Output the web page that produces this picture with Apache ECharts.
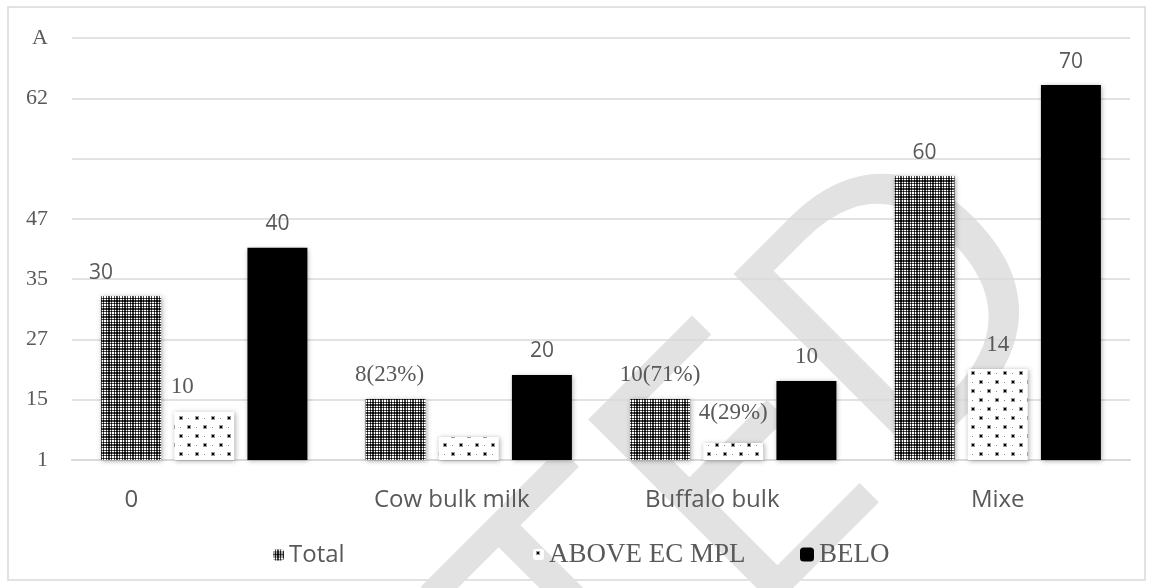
<!DOCTYPE html>
<html>
<head>
<meta charset="utf-8">
<script src="https://cdn.jsdelivr.net/npm/echarts@6/dist/echarts.min.js"></script>
<style>html,body{margin:0;padding:0;background:#fff;}#c{width:1153px;height:588px;}</style>
</head>
<body>
<div id="c"></div>
<script>
// ---- data ----
const categories = ['0', 'Cow bulk milk', 'Buffalo bulk', 'Mixe'];
const seriesNames = ['Total', 'ABOVE EC MPL', 'BELO'];
// bar heights in axis units (one unit per gridline band)
const totalValues = [2.72, 1.01, 1.01, 4.71];
const aboveValues = [0.80, 0.38, 0.28, 1.51];
const beloValues  = [3.52, 1.41, 1.31, 6.22];
// printed labels
const totalLabels = ['30', '8(23%)', '10(71%)', '60'];
const aboveLabels = ['10', '', '4(29%)', '14'];
const beloLabels  = ['40', '20', '10', '70'];
// y tick labels, one per gridline from bottom
const yTickLabels = ['1', '15', '27', '35', '47', '', '62', 'A'];
const watermarkText = 'DELETED';

// ---- styles (kept separate from data) ----
const SANS = '"Open Sans", sans-serif';
const SERIF = '"Liberation Serif", "Times New Roman", serif';
const labelSerif = {
  total: [false, true, true, false],
  above: [true, true, true, true],
  belo:  [false, false, true, false]
};
const labelOffsets = {
  total: [[-30, 0], [-6, 0], [0, 0], [0, 0]],
  above: [[-22, 0], [0, 0], [0, -6], [0, 0]],
  belo:  [[0, 0], [0, 0], [0, 0], [0, 0]]
};
const catShift = [-73, -17, -21, 0];

function plaid() {
  const n = 8;
  const c = document.createElement('canvas');
  c.width = n; c.height = n;
  const ctx = c.getContext('2d');
  const a = [1, 1, 0, 1, 0, 0, 1, 0];
  for (let x = 0; x < n; x++) for (let y = 0; y < n; y++) {
    const v = (a[x] && a[y]) ? 255 : (a[x] || a[y]) ? 75 : 0;
    ctx.fillStyle = 'rgb(' + v + ',' + v + ',' + v + ')';
    ctx.fillRect(x, y, 1, 1);
  }
  return c;
}
function dots() {
  const c = document.createElement('canvas');
  c.width = 16; c.height = 18;
  const ctx = c.getContext('2d');
  ctx.fillStyle = '#fff'; ctx.fillRect(0, 0, 16, 18);
  ctx.fillStyle = '#999';
  ctx.fillRect(3, 2, 4, 4);
  ctx.fillRect(11, 11, 4, 4);
  ctx.fillStyle = '#000';
  ctx.fillRect(4, 3, 2, 2);
  ctx.fillRect(12, 12, 2, 2);
  ctx.fillStyle = '#888';
  ctx.fillRect(12, 4, 1, 1);
  ctx.fillRect(4, 13, 1, 1);
  return c;
}
const plaidPattern = { image: plaid(), repeat: 'repeat' };
const dotPattern = { image: dots(), repeat: 'repeat' };

function mkData(values, labels, key) {
  return values.map((v, i) => ({
    value: v,
    label: {
      formatter: labels[i],
      fontFamily: labelSerif[key][i] ? SERIF : SANS,
      fontSize: labelSerif[key][i] ? 23 : 21,
      offset: labelOffsets[key][i]
    }
  }));
}

const shadow = { shadowBlur: 5, shadowColor: 'rgba(0,0,0,0.35)', shadowOffsetX: 1, shadowOffsetY: 1 };
const baseLabel = { show: true, position: 'top', distance: 13, color: '#595959' };

const chart = echarts.init(document.getElementById('c'), null, { renderer: 'canvas' });
chart.setOption({
  animation: false,
  backgroundColor: '#fff',
  graphic: [
    { type: 'rect', shape: { x: 8, y: 7, width: 1137, height: 573 },
      style: { fill: 'none', stroke: '#d9d9d9', lineWidth: 1.5 }, z: -1 },
    { type: 'text', x: 1010, y: 222, rotation: Math.PI / 4, z: -1, silent: true,
      style: { text: watermarkText, fontFamily: '"Open Sans", sans-serif', fontSize: 370,
               fill: '#e2e2e2', align: 'right', verticalAlign: 'middle' } }
  ],
  grid: { left: 72, right: 23, top: 38, bottom: 128, containLabel: false },
  legend: [
    { data: [seriesNames[0]], left: 268, top: 538, itemWidth: 11, itemHeight: 11,
      textStyle: { fontFamily: SANS, fontSize: 24, color: '#595959' } },
    { data: [seriesNames[1]], left: 528, top: 536, itemWidth: 11, itemHeight: 11,
      textStyle: { fontFamily: SERIF, fontSize: 27, color: '#595959' } },
    { data: [seriesNames[2]], left: 795, top: 536, itemWidth: 14, itemHeight: 14,
      textStyle: { fontFamily: SERIF, fontSize: 27, color: '#595959' } }
  ],
  xAxis: {
    type: 'category',
    data: categories.map((c, i) => ({
      value: c,
      textStyle: { padding: catShift[i] < 0 ? [0, -2 * catShift[i], 0, 0] : [0, 0, 0, 2 * catShift[i]] }
    })),
    axisLine: { show: true, lineStyle: { color: '#d9d9d9', width: 2 } },
    axisTick: { show: false },
    axisLabel: { fontFamily: SANS, fontSize: 24, color: '#595959', margin: 28 }
  },
  yAxis: {
    type: 'value', min: 0, max: 7, interval: 1,
    axisLine: { show: false }, axisTick: { show: false },
    splitLine: { lineStyle: { color: '#d9d9d9', width: 1.5 } },
    axisLabel: {
      fontFamily: SERIF, fontSize: 22, color: '#595959', margin: 24,
      formatter: v => yTickLabels[Math.round(v)]
    }
  },
  series: [
    { name: seriesNames[0], type: 'bar', barGap: '22%', barCategoryGap: '22%',
      itemStyle: Object.assign({ color: plaidPattern }, shadow),
      label: baseLabel, data: mkData(totalValues, totalLabels, 'total') },
    { name: seriesNames[1], type: 'bar', barGap: '22%', barCategoryGap: '22%',
      itemStyle: Object.assign({ color: dotPattern }, shadow),
      label: baseLabel, data: mkData(aboveValues, aboveLabels, 'above') },
    { name: seriesNames[2], type: 'bar', barGap: '22%', barCategoryGap: '22%',
      itemStyle: Object.assign({ color: '#000' }, shadow),
      label: baseLabel, data: mkData(beloValues, beloLabels, 'belo') }
  ]
});
</script>
</body>
</html>
